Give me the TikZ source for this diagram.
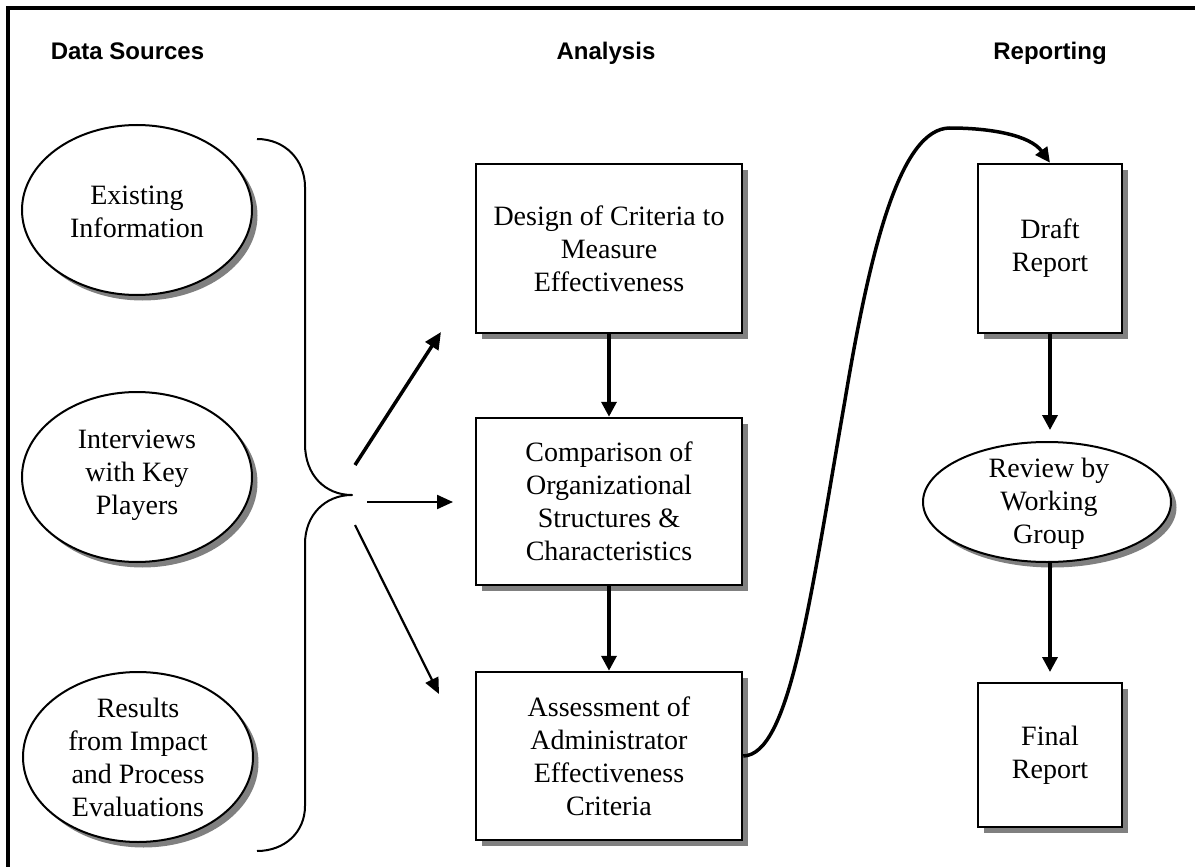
\documentclass[tikz,border=0pt]{standalone}
\usepackage{fontspec}
\setmainfont{Liberation Serif}
\newfontfamily\hdrfont{Liberation Sans}
\usetikzlibrary{shapes.geometric,arrows.meta,shadows}
\definecolor{shadowgray}{RGB}{128,128,128}
\begin{document}
\begin{tikzpicture}[x=1pt,y=-1pt,
  shad/.style={drop shadow={shadow xshift=5.5pt,shadow yshift=-5.5pt,fill=shadowgray,opacity=1}},
  oval/.style={ellipse,draw=black,line width=2pt,fill=white,shad,inner sep=0pt},
  stepbox/.style={rectangle,draw=black,line width=2.5pt,fill=white,shad,inner sep=0pt,
     align=center,font=\fontsize{28}{33}\selectfont},
  txt/.style={align=center,font=\fontsize{28}{33}\selectfont,inner sep=0pt},
  hdr/.style={font=\hdrfont\bfseries\fontsize{24}{28}\selectfont,anchor=base,inner sep=0pt},
  arr/.style={line width=3.5pt,-{Triangle[length=15pt,width=15pt]}},
  darr/.style={line width=3.5pt,-{Triangle[length=17pt,width=15pt]}},
  marr/.style={line width=2.2pt,-{Triangle[length=16pt,width=14pt]}},
  brace/.style={line width=2pt,line join=round},
  curvy/.style={line width=3.5pt,-{Triangle[length=15pt,width=14pt]}}
]
\useasboundingbox (0,0) rectangle (1195,867);
\fill[white] (0,0) rectangle (1195,867);
% frame
\draw[line width=4pt] (8,867) -- (8,8.5) -- (1195,8.5);
% headers
\node[hdr] (h1) at (127.5,60) {Data Sources};
\node[hdr] (h2) at (606,60) {Analysis};
\node[hdr] (h3) at (1050,60) {Reporting};
% data source ellipses
\node[oval,minimum width=230pt,minimum height=170pt] (e1) at (137,210) {};
\node[txt] (t1) at (137,212) {Existing\\Information};
\node[oval,minimum width=230pt,minimum height=170pt] (e2) at (137,477) {};
\node[txt] (t2) at (137,475) {Interviews\\with Key\\Players};
\node[oval,minimum width=230pt,minimum height=170pt] (e3) at (138,757) {};
\node[txt] (t3) at (138,757) {Results\\from Impact\\and Process\\Evaluations};
% brace
\draw[brace] (257,139) .. controls (285,139) and (305,160) .. (305,187) -- (305,444)
  .. controls (305,475) and (325,495) .. (352,495)
  .. controls (325,495) and (305,515) .. (305,544) -- (305,806)
  .. controls (305,832) and (285,851) .. (257,851);
% analysis boxes
\node[stepbox,minimum width=266pt,minimum height=169pt] (d) at (609,248.5) {Design of Criteria to\\Measure\\Effectiveness};
\node[stepbox,minimum width=266pt,minimum height=167pt] (c) at (609,501.5) {Comparison of\\Organizational\\Structures \&\\Characteristics};
\node[stepbox,minimum width=266pt,minimum height=168pt] (a) at (609,756) {Assessment of\\Administrator\\Effectiveness\\Criteria};
% reporting
\node[stepbox,minimum width=144pt,minimum height=169pt] (dr) at (1050,248.5) {Draft\\Report};
\node[oval,minimum width=248pt,minimum height=120pt] (rv) at (1047,502) {};
\node[txt] (tr) at (1049,504) {Review by\\Working\\Group};
\node[stepbox,minimum width=144pt,minimum height=144pt] (fr) at (1050,755) {Final\\Report};
% brace arrows
\coordinate (s1) at (355,465);
\coordinate (g1) at (441,332);
\coordinate (s2) at (367,502);
\coordinate (g2) at (453,502);
\coordinate (s3) at (355,525);
\coordinate (g3) at (439,694);
\draw[darr] (s1) -- (g1);
\draw[marr] (s2) -- (g2);
\draw[marr] (s3) -- (g3);
% vertical arrows
\draw[arr] (d.south) -- (c.north);
\draw[arr] (c.south) -- (a.north);
\coordinate (rvtop) at (1050,430);
\coordinate (frtop) at (1050,672);
\draw[arr] (dr.south) -- (rvtop);
\draw[arr] (rv.south -| fr.north) -- (frtop);
% curve
\draw[curvy] (a.east) .. controls (790,755) and (810,600) .. (845,400)
  .. controls (870,250) and (900,128) .. (950,128)
  .. controls (990,128) and (1030,135) .. (dr.north);
\end{tikzpicture}
\end{document}
